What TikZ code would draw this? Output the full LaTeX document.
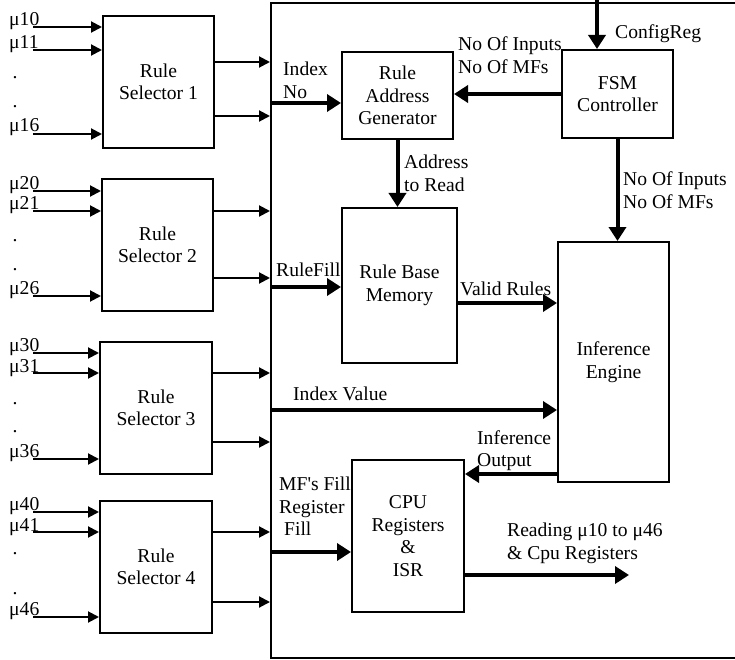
\documentclass[tikz,border=0pt]{standalone}
\usepackage{fontspec}
\setmainfont{Liberation Serif}
\usetikzlibrary{arrows.meta}

\begin{document}
\begin{tikzpicture}[x=1pt, y=-1pt,
  every node/.style={font=\fontsize{19.6}{22.5}\selectfont},
  blk/.style ={draw, line width=2pt, align=center, inner sep=0pt},
  lbl/.style ={anchor=north west, align=left, inner sep=0pt},
  sig/.style ={anchor=base west, inner sep=0pt},
  arr/.style ={-{Triangle[length=11pt, width=11pt]}, line width=2pt},
  bus/.style ={-{Triangle[length=14pt, width=17pt]}, line width=4pt},
]
\useasboundingbox (0,0) rectangle (735,660);

% outer frame (runs off the right edge)
\node[draw, line width=2pt, minimum width=530pt, minimum height=655pt,
      inner sep=0pt] (frame) at (536,330.5) {};

% rule selectors
\node[blk, minimum width=111pt, minimum height=132pt] (rs1) at (158.5,82)  {Rule\\Selector 1};
\node[blk, minimum width=111pt, minimum height=132pt] (rs2) at (157.5,245) {Rule\\Selector 2};
\node[blk, minimum width=112pt, minimum height=132pt] (rs3) at (156,408)   {Rule\\Selector 3};
\node[blk, minimum width=112pt, minimum height=132pt] (rs4) at (156,567)   {Rule\\Selector 4};

% membership inputs
\foreach \n/\ya/\yb/\yc/\yd/\ye in {1/27/50/134/77/106, 2/191/211/296/239/268,
                                    3/353/373/459/402/430, 4/512/532/617/552/592} {
  \coordinate (in\n0) at (33,\ya);
  \coordinate (in\n1) at (33,\yb);
  \coordinate (in\n6) at (33,\yc);
  \draw[arr] (in\n0) -- (in\n0 -| rs\n.west);
  \draw[arr] (in\n1) -- (in\n1 -| rs\n.west);
  \draw[arr] (in\n6) -- (in\n6 -| rs\n.west);
  \node[sig] (mu\n0) at (9,\ya-1.5) {μ\n0};
  \node[sig] (mu\n1) at (9,\yb-1) {μ\n1};
  \node[sig] (mu\n6) at (9,\yc-2) {μ\n6};
  \node[inner sep=0pt, anchor=base] (dta\n) at (15,\yd+2) {.};
  \node[inner sep=0pt, anchor=base] (dtb\n) at (15,\ye+2) {.};
}

% selector outputs into the frame
\foreach \n/\ya/\yb in {1/62/116, 2/211/278, 3/373/442, 4/532/602} {
  \coordinate (oa\n) at (frame.west |- 0,\ya);
  \coordinate (ob\n) at (frame.west |- 0,\yb);
  \draw[arr] (oa\n -| rs\n.east) -- (oa\n);
  \draw[arr] (ob\n -| rs\n.east) -- (ob\n);
}

% inner blocks
\node[blk, minimum width=111pt, minimum height=87pt]  (rag) at (397.5,95.5) {Rule\\Address\\Generator};
\node[blk, minimum width=111pt, minimum height=88pt]  (fsm) at (617.5,94)   {FSM\\Controller};
\node[blk, minimum width=115pt, minimum height=155pt] (rbm) at (399.5,285.5) {Rule Base\\Memory};
\node[blk, minimum width=111pt, minimum height=240pt] (ie)  at (613.5,362)  {Inference\\Engine};
\node[blk, minimum width=112pt, minimum height=152pt] (cpu) at (408,536)    {CPU\\Registers\\\&\\ISR};

% buses
\coordinate (cfg)    at (597,0);
\coordinate (idxno)  at (frame.west |- 0,103);
\coordinate (rfill)  at (frame.west |- 0,287);
\coordinate (idxval) at (frame.west |- 0,410);
\coordinate (mffill) at (frame.west |- 0,552);
\coordinate (rdout)  at (629,575);

\draw[bus] (cfg) -- (cfg |- fsm.north);
\draw[bus] (fsm.west) -- (fsm.west -| rag.east);
\draw[bus] (idxno) -- (idxno -| rag.west);
\draw[bus] (rag.south) -- (rag.south |- rbm.north);
\draw[bus] (fsm.south) -- (fsm.south |- ie.north);
\draw[bus] (rfill) -- (rfill -| rbm.west);
\draw[bus] (rbm.east |- 0,303) -- (ie.west |- 0,303);
\draw[bus] (idxval) -- (idxval -| ie.west);
\draw[bus] (ie.west |- 0,474) -- (cpu.east |- 0,474);
\draw[bus] (mffill) -- (mffill -| cpu.west);
\draw[bus] (cpu.east |- rdout) -- (rdout);

% bus labels
\node[lbl] (cfglbl)  at (615,25)  {ConfigReg};
\node[lbl] (nolbla)  at (458,37)  {No Of Inputs\\No Of MFs};
\node[lbl] (idxlbl)  at (283,62)  {Index\\No};
\node[lbl] (addrlbl) at (404,155) {Address\\to Read};
\node[lbl] (nolblb)  at (623,172) {No Of Inputs\\No Of MFs};
\node[lbl] (rfilllbl) at (276,263) {RuleFill};
\node[lbl] (validlbl) at (460,282) {Valid Rules};
\node[lbl] (ivlbl)   at (293,387) {Index Value};
\node[lbl] (iolbl)   at (477,430) {Inference\\Output};
\node[lbl] (mflbl)   at (279,477) {MF\textquotesingle s Fill\\Register\\\hspace{5pt}Fill};
\node[lbl] (rdlbl)   at (507,523) {Reading μ10 to μ46\\\& Cpu Registers};
\end{tikzpicture}
\end{document}
